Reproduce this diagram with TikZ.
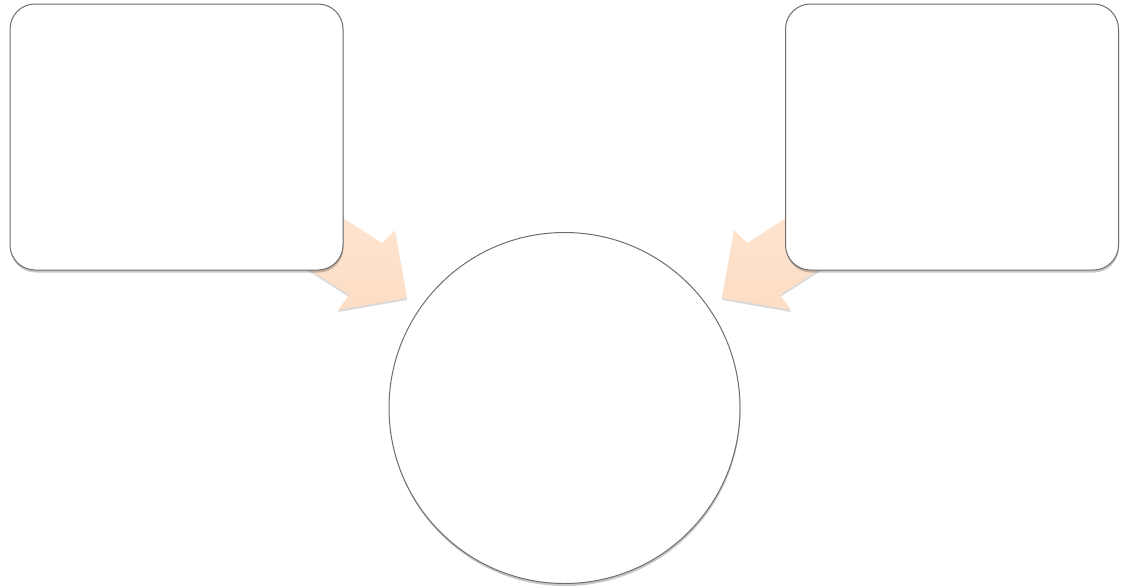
\documentclass[tikz,border=0pt]{standalone}
\usetikzlibrary{shadows}
\definecolor{peach}{RGB}{253,221,196}
\definecolor{peachlight}{RGB}{254,230,212}
\definecolor{edgegray}{RGB}{110,110,110}
\begin{document}
\begin{tikzpicture}[x=1pt,y=-1pt,
  panel/.style={draw=edgegray,line width=1pt,fill=white,rounded corners=25pt,
    minimum width=333pt,minimum height=266pt,inner sep=0pt,
    drop shadow={shadow xshift=0.5pt,shadow yshift=-2.5pt,opacity=0.22,fill=black}},
  hub/.style={draw=edgegray,line width=1pt,fill=white,circle,minimum size=351pt,inner sep=0pt,
    drop shadow={shadow xshift=0.5pt,shadow yshift=-2.5pt,opacity=0.22,fill=black}},
  blockarrow/.style={top color=peachlight,bottom color=peach,draw=none,
    drop shadow={shadow xshift=0pt,shadow yshift=-2pt,opacity=0.15,fill=black}}]
\useasboundingbox (0,0) rectangle (1123,587);
% block arrows (behind the panels)
\path[blockarrow] (304,193) -- (382,243) -- (395,230) -- (407,298) -- (338,310) -- (349,295) -- (271,245) -- cycle;
\path[blockarrow] (825,193) -- (747,243) -- (734,230) -- (722,298) -- (791,310) -- (780,295) -- (858,245) -- cycle;
% panels and hub
\node[panel] (left) at (176.5,137) {};
\node[panel] (right) at (952,137) {};
\node[hub] (hub) at (564.5,408) {};
\end{tikzpicture}
\end{document}
